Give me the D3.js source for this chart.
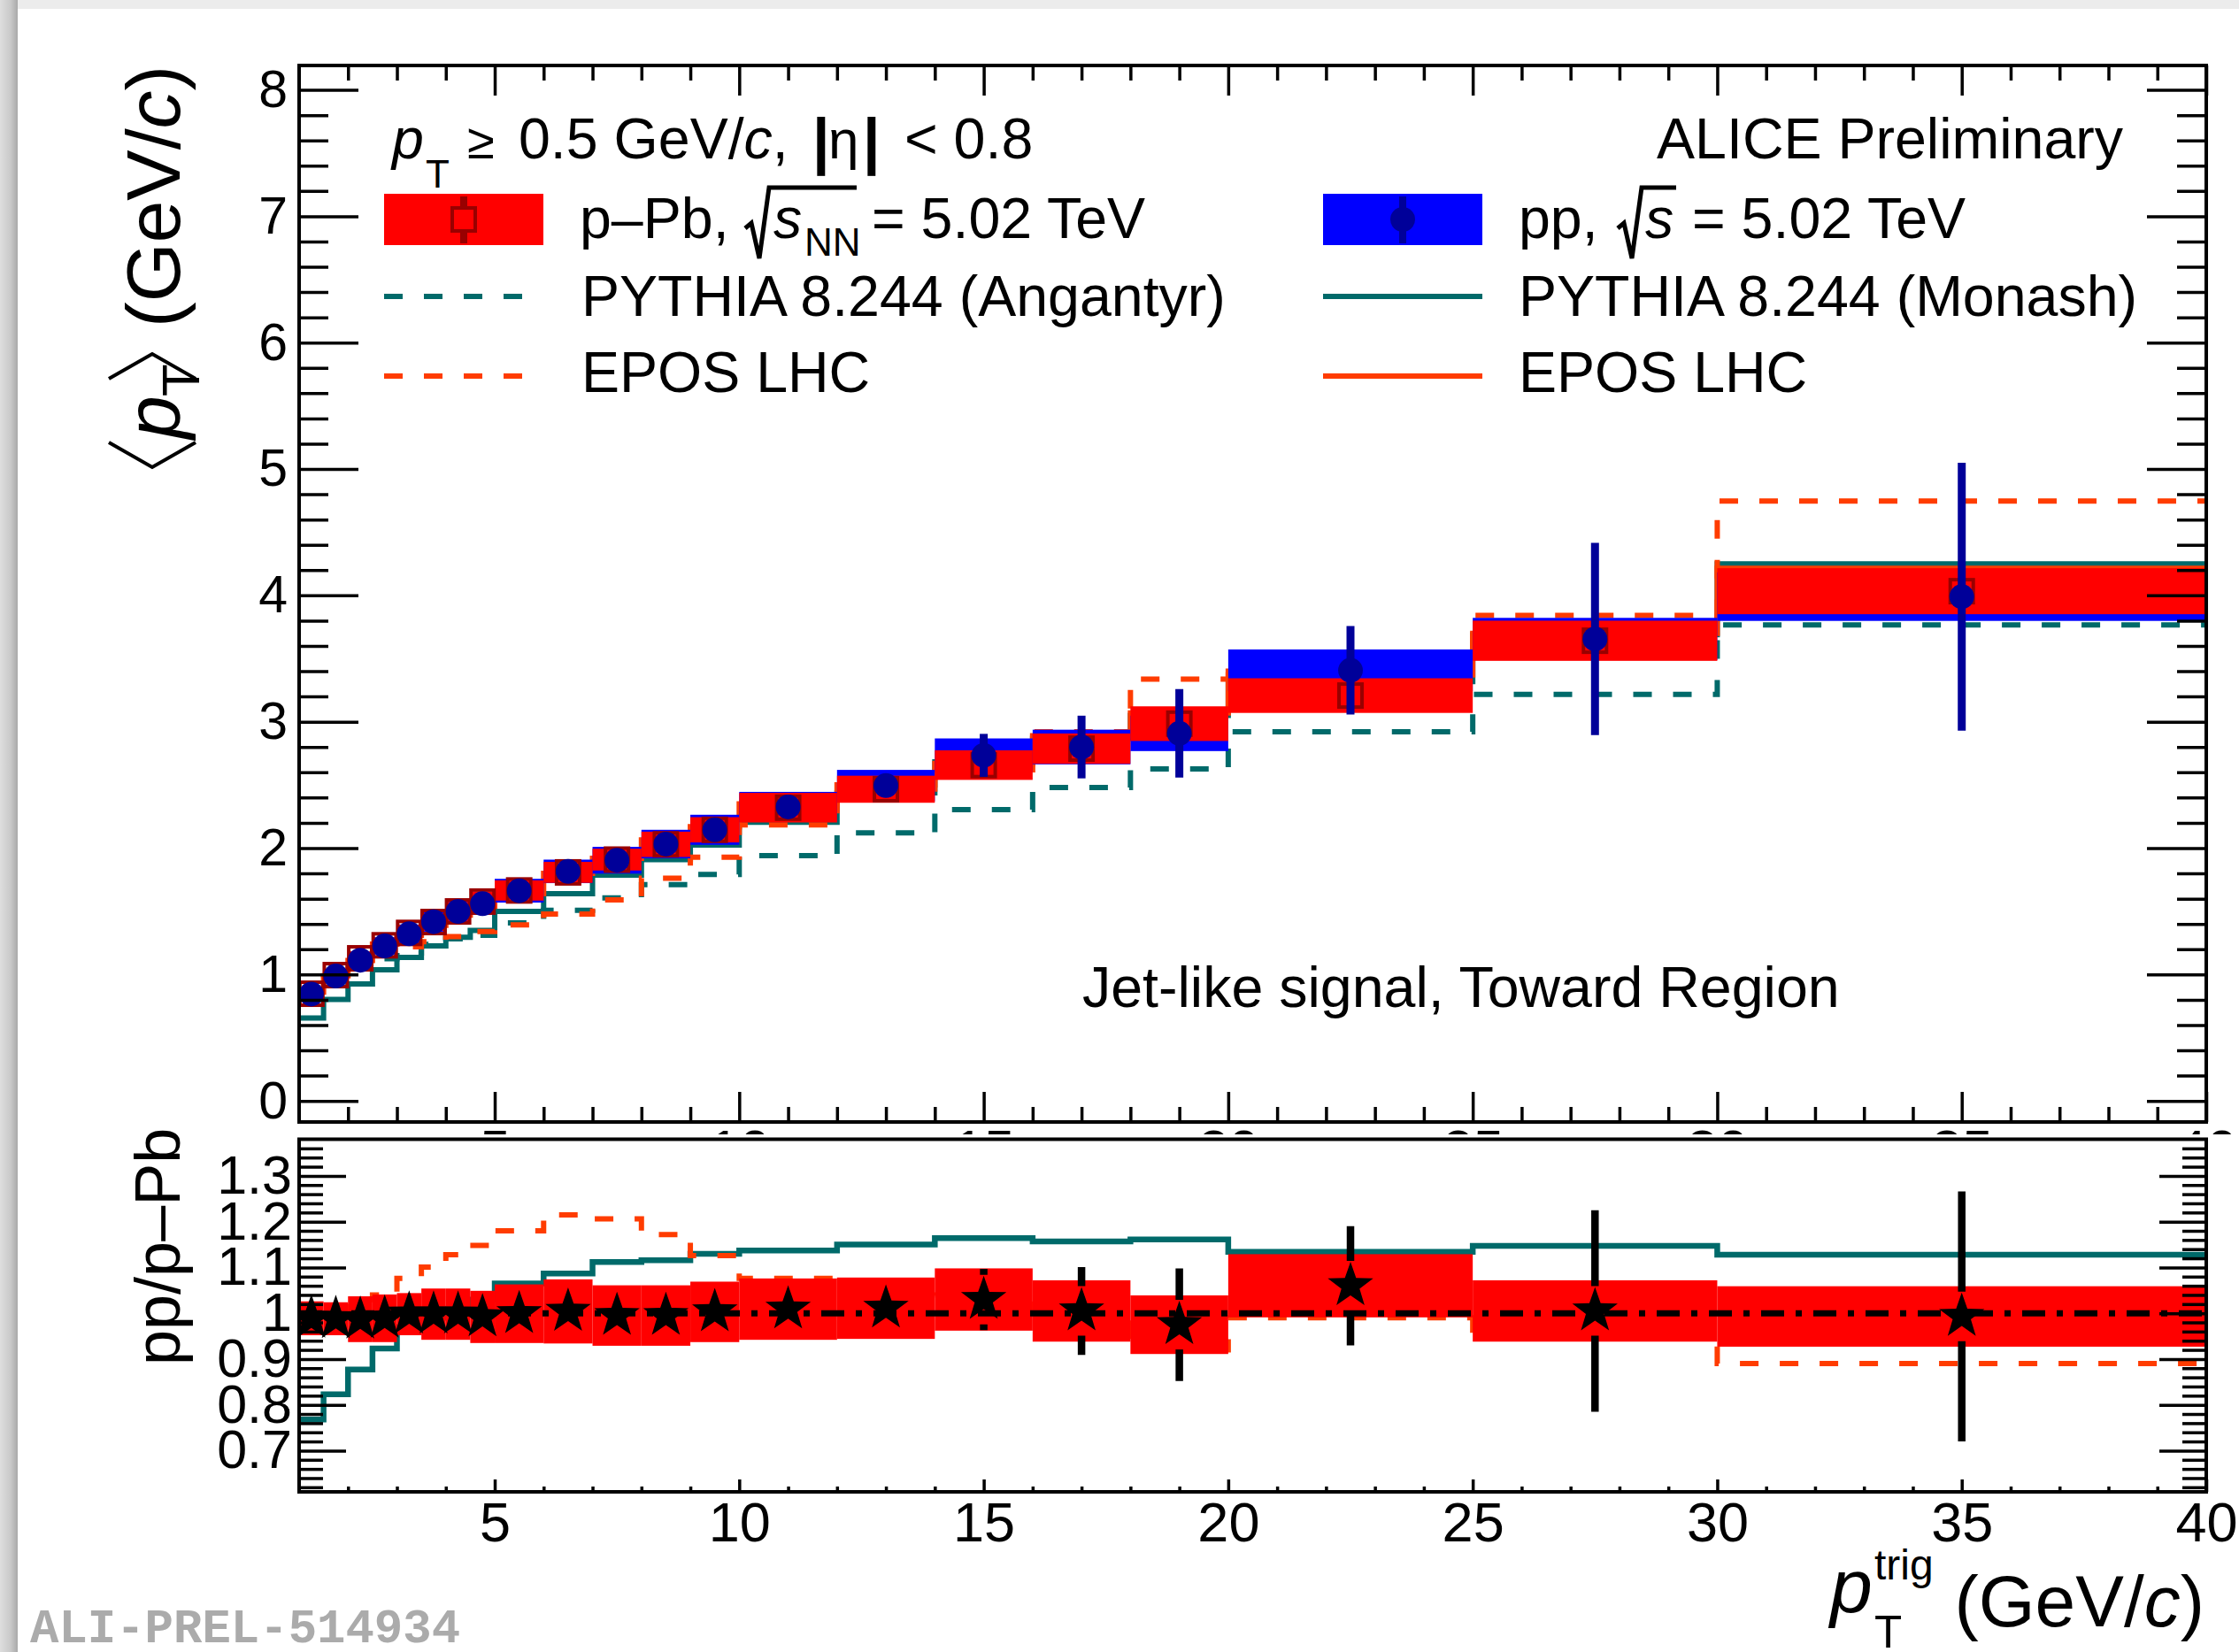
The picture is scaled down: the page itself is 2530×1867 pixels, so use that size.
<!DOCTYPE html>
<html>
<head>
<meta charset="utf-8">
<script src="https://cdnjs.cloudflare.com/ajax/libs/d3/7.8.5/d3.min.js"></script>
<style>
  html, body { margin: 0; padding: 0; background: #ffffff; }
  svg { display: block; font-family: "Liberation Sans", Arial, Helvetica, sans-serif; }
</style>
</head>
<body>
<svg id="chart" width="2530" height="1867"></svg>
<script>
// ---- data -------------------------------------------------------------
// trigger pT bin edges (GeV/c)
const binEdges = [1, 1.5, 2, 2.5, 3, 3.5, 4, 4.5, 5, 6, 7, 8, 9, 10, 12, 14, 16, 18, 20, 25, 30, 40];

// pp, sqrt(s) = 5.02 TeV : <pT> with statistical and systematic uncertainties
const ppMean = [0.845, 0.988, 1.113, 1.226, 1.322, 1.418, 1.499, 1.560, 1.663, 1.816, 1.904, 2.032, 2.145, 2.326, 2.495, 2.734, 2.800, 2.908, 3.407, 3.655, 3.990];
const ppStat = [0.010, 0.010, 0.010, 0.012, 0.014, 0.016, 0.018, 0.020, 0.022, 0.027, 0.033, 0.040, 0.050, 0.055, 0.080, 0.170, 0.248, 0.350, 0.350, 0.760, 1.060];
const ppSys  = [0.047, 0.055, 0.062, 0.068, 0.074, 0.079, 0.083, 0.087, 0.094, 0.093, 0.106, 0.113, 0.119, 0.119, 0.124, 0.134, 0.137, 0.140, 0.165, 0.167, 0.192];

// p-Pb, sqrt(sNN) = 5.02 TeV
const pPbMean = [0.848, 0.995, 1.128, 1.231, 1.329, 1.415, 1.499, 1.577, 1.665, 1.808, 1.909, 2.030, 2.145, 2.320, 2.466, 2.657, 2.787, 2.985, 3.207, 3.641, 4.033];
const pPbStat = [0.008, 0.008, 0.009, 0.010, 0.011, 0.012, 0.013, 0.014, 0.015, 0.017, 0.020, 0.022, 0.025, 0.025, 0.035, 0.045, 0.055, 0.065, 0.060, 0.120, 0.150];
const pPbSys  = [0.045, 0.050, 0.055, 0.060, 0.065, 0.070, 0.075, 0.078, 0.080, 0.083, 0.086, 0.100, 0.100, 0.117, 0.107, 0.117, 0.120, 0.137, 0.137, 0.159, 0.182];

// model predictions
const pythiaAngantyr = [0.854, 0.976, 1.056, 1.124, 1.170, 1.238, 1.282, 1.310, 1.408, 1.508, 1.606, 1.711, 1.792, 1.940, 2.120, 2.305, 2.479, 2.627, 2.921, 3.217, 3.766];
const pythiaMonash   = [0.656, 0.803, 0.926, 1.037, 1.135, 1.226, 1.295, 1.349, 1.499, 1.639, 1.786, 1.909, 2.025, 2.205, 2.438, 2.683, 2.868, 3.050, 3.318, 3.690, 4.250];
const eposPPb        = [0.860, 0.980, 1.080, 1.190, 1.220, 1.260, 1.300, 1.340, 1.393, 1.479, 1.590, 1.762, 1.929, 2.184, 2.400, 2.620, 2.920, 3.337, 3.400, 3.841, 4.746];
const eposPP         = [0.860, 0.990, 1.110, 1.240, 1.310, 1.390, 1.470, 1.540, 1.640, 1.800, 1.920, 2.065, 2.170, 2.350, 2.500, 2.670, 2.890, 3.070, 3.370, 3.700, 4.215];

// ratio pp / p-Pb
const ratioMean = [0.989, 0.988, 0.987, 0.989, 0.998, 0.998, 0.998, 0.992, 0.999, 1.004, 0.995, 0.995, 1.003, 1.009, 1.011, 1.030, 1.005, 0.975, 1.060, 1.005, 0.993];
const ratioStat = [0.010, 0.010, 0.010, 0.010, 0.012, 0.013, 0.014, 0.015, 0.016, 0.018, 0.020, 0.022, 0.025, 0.027, 0.035, 0.067, 0.096, 0.123, 0.130, 0.220, 0.273];
const ratioSys  = [0.037, 0.036, 0.050, 0.052, 0.046, 0.056, 0.056, 0.057, 0.064, 0.070, 0.066, 0.066, 0.066, 0.067, 0.067, 0.068, 0.067, 0.064, 0.069, 0.067, 0.066];
const ratioPythia = [0.768, 0.823, 0.877, 0.923, 0.970, 0.990, 1.010, 1.030, 1.065, 1.087, 1.112, 1.116, 1.130, 1.137, 1.150, 1.164, 1.157, 1.161, 1.134, 1.147, 1.128];
const ratioEpos   = [1.000, 1.010, 1.030, 1.040, 1.076, 1.101, 1.128, 1.148, 1.180, 1.215, 1.206, 1.172, 1.126, 1.076, 1.040, 1.020, 1.010, 0.920, 0.990, 0.963, 0.890];

// axis ticks
const xMajorTicks = [5, 10, 15, 20, 25, 30, 35, 40];
const yMajorTicks = [0, 1, 2, 3, 4, 5, 6, 7, 8];
const ratioMajorTicks = [0.7, 0.8, 0.9, 1.0, 1.1, 1.2, 1.3];

// ---- layout -----------------------------------------------------------
const W = 2530, H = 1867;
const TOP = { l: 338, r: 2493, t: 74, b: 1268 };
const BOT = { l: 338, r: 2493, t: 1287.5, b: 1686 };

const COL = {
  blueBox: "#0000ff", navy: "#000099", redBox: "#ff0000", darkRed: "#990000",
  teal: "#006a6a", orange: "#ff3c00", black: "#000000"
};

const x = d3.scaleLinear().domain([1, 40]).range([TOP.l, TOP.r]);
const yTop = d3.scaleLinear().domain([-0.167, 8.193]).range([TOP.b, TOP.t]);
const yRat = d3.scaleLinear().domain([0.61, 1.38]).range([BOT.b, BOT.t]);

const bins = binEdges.slice(0, -1).map((lo, i) => ({ lo, hi: binEdges[i + 1], c: (lo + binEdges[i + 1]) / 2, i }));
const stepRange = (a, b, s) => d3.range(Math.round(a / s), Math.round(b / s) + 1).map(k => +(k * s).toFixed(4));

const svg = d3.select("#chart");

// page background and the soft frame at its top-left edge
const defs = svg.append("defs");
const gl = defs.append("linearGradient").attr("id", "edgeL").attr("x1", 0).attr("x2", 1).attr("y1", 0).attr("y2", 0);
gl.append("stop").attr("offset", 0).attr("stop-color", "#dedede");
gl.append("stop").attr("offset", 0.6).attr("stop-color", "#c9c9c9");
gl.append("stop").attr("offset", 1).attr("stop-color", "#a9a9a9");
svg.append("rect").attr("width", W).attr("height", H).attr("fill", "#ffffff");
svg.append("rect").attr("x", 0).attr("y", 0).attr("width", W).attr("height", 10).attr("fill", "#ececec");
svg.append("rect").attr("x", 0).attr("y", 0).attr("width", 20).attr("height", H).attr("fill", "url(#edgeL)");

defs.append("clipPath").attr("id", "clipTop").append("rect")
  .attr("x", TOP.l).attr("y", TOP.t).attr("width", TOP.r - TOP.l).attr("height", TOP.b - TOP.t);
defs.append("clipPath").attr("id", "clipBot").append("rect")
  .attr("x", BOT.l).attr("y", BOT.t).attr("width", BOT.r - BOT.l).attr("height", BOT.b - BOT.t);

// histogram-style step line through all bins
function stepLine(vals, yS) {
  const pts = binEdges.map((e, i) => [e, vals[Math.min(i, vals.length - 1)]]);
  return d3.line().x(d => x(d[0])).y(d => yS(d[1])).curve(d3.curveStepAfter)(pts);
}

// five-pointed star marker
function starPath(cx, cy, R) {
  const r = R * 0.4, pts = [];
  for (let k = 0; k < 10; k++) {
    const a = -Math.PI / 2 + k * Math.PI / 5, rr = k % 2 ? r : R;
    pts.push([cx + rr * Math.cos(a), cy + rr * Math.sin(a)]);
  }
  return d3.line()(pts) + "Z";
}

const DASH = "21,24";

// ---- upper panel ------------------------------------------------------
const upper = svg.append("g").attr("clip-path", "url(#clipTop)");

const models = [
  { v: pythiaAngantyr, c: COL.teal, dash: DASH },
  { v: pythiaMonash, c: COL.teal, dash: null },
  { v: eposPPb, c: COL.orange, dash: DASH },
  { v: eposPP, c: COL.orange, dash: null }
];
models.forEach(m => {
  upper.append("path").attr("d", stepLine(m.v, yTop)).attr("fill", "none")
    .attr("stroke", m.c).attr("stroke-width", 6).attr("stroke-dasharray", m.dash);
});

// systematic boxes: pp underneath, p-Pb on top
upper.append("g").selectAll("rect").data(bins).join("rect")
  .attr("x", d => x(d.lo)).attr("width", d => x(d.hi) - x(d.lo))
  .attr("y", d => yTop(ppMean[d.i] + ppSys[d.i]))
  .attr("height", d => yTop(ppMean[d.i] - ppSys[d.i]) - yTop(ppMean[d.i] + ppSys[d.i]))
  .attr("fill", COL.blueBox);
upper.append("g").selectAll("rect").data(bins).join("rect")
  .attr("x", d => x(d.lo)).attr("width", d => x(d.hi) - x(d.lo))
  .attr("y", d => yTop(pPbMean[d.i] + pPbSys[d.i]))
  .attr("height", d => yTop(pPbMean[d.i] - pPbSys[d.i]) - yTop(pPbMean[d.i] + pPbSys[d.i]))
  .attr("fill", COL.redBox);

// p-Pb statistical bars (outside the marker) and open squares
const SQ = 15;
bins.forEach(d => {
  const cx = x(d.c), cy = yTop(pPbMean[d.i]);
  const yHi = yTop(pPbMean[d.i] + pPbStat[d.i]), yLo = yTop(pPbMean[d.i] - pPbStat[d.i]);
  if (cy - yHi > SQ) upper.append("line").attr("x1", cx).attr("x2", cx).attr("y1", yHi).attr("y2", cy - SQ)
    .attr("stroke", COL.darkRed).attr("stroke-width", 7);
  if (yLo - cy > SQ) upper.append("line").attr("x1", cx).attr("x2", cx).attr("y1", cy + SQ).attr("y2", yLo)
    .attr("stroke", COL.darkRed).attr("stroke-width", 7);
  upper.append("rect").attr("x", cx - SQ + 2).attr("y", cy - SQ + 2).attr("width", 2 * SQ - 4).attr("height", 2 * SQ - 4)
    .attr("fill", "none").attr("stroke", COL.darkRed).attr("stroke-width", 4);
});

// pp statistical bars and full circles
upper.append("g").selectAll("line").data(bins).join("line")
  .attr("x1", d => x(d.c)).attr("x2", d => x(d.c))
  .attr("y1", d => yTop(ppMean[d.i] + ppStat[d.i])).attr("y2", d => yTop(ppMean[d.i] - ppStat[d.i]))
  .attr("stroke", COL.navy).attr("stroke-width", 9);
upper.append("g").selectAll("circle").data(bins).join("circle")
  .attr("cx", d => x(d.c)).attr("cy", d => yTop(ppMean[d.i])).attr("r", 14).attr("fill", COL.navy);

// frame and ticks of the upper panel
const axisStyle = g => {
  g.select(".domain").remove();
  g.selectAll(".tick line").attr("stroke", "#000").attr("stroke-width", 3.5);
  g.selectAll("text").attr("fill", "#000").attr("font-family", "'Liberation Sans', Arial, sans-serif");
};
const xMinor = d3.range(2, 40).filter(v => v % 5 !== 0);
const yMinorTop = stepRange(0, 8.2, 0.2).filter(v => Math.abs(v - Math.round(v)) > 1e-6 && v <= 8.19);

// tick labels of the upper x axis sit under the lower panel and are mostly hidden by it
svg.append("g").attr("transform", `translate(0,${TOP.b})`)
  .call(d3.axisBottom(x).tickValues(xMajorTicks).tickSize(-34).tickPadding(8).tickFormat(d3.format("d")))
  .call(axisStyle).selectAll("text").attr("font-size", 62);
svg.append("g").attr("transform", `translate(0,${TOP.b})`)
  .call(d3.axisBottom(x).tickValues(xMinor).tickSize(-17).tickFormat("")).call(axisStyle);
svg.append("g").attr("transform", `translate(0,${TOP.t})`)
  .call(d3.axisTop(x).tickValues(xMajorTicks).tickSize(-34).tickFormat("")).call(axisStyle);
svg.append("g").attr("transform", `translate(0,${TOP.t})`)
  .call(d3.axisTop(x).tickValues(xMinor).tickSize(-17).tickFormat("")).call(axisStyle);
svg.append("g").attr("transform", `translate(${TOP.l},0)`)
  .call(d3.axisLeft(yTop).tickValues(yMajorTicks).tickSize(-67).tickPadding(13).tickFormat(d3.format("d")))
  .call(axisStyle).selectAll("text").attr("font-size", 59);
svg.append("g").attr("transform", `translate(${TOP.l},0)`)
  .call(d3.axisLeft(yTop).tickValues(yMinorTop).tickSize(-33).tickFormat("")).call(axisStyle);
svg.append("g").attr("transform", `translate(${TOP.r},0)`)
  .call(d3.axisRight(yTop).tickValues(yMajorTicks).tickSize(-67).tickFormat("")).call(axisStyle);
svg.append("g").attr("transform", `translate(${TOP.r},0)`)
  .call(d3.axisRight(yTop).tickValues(yMinorTop).tickSize(-33).tickFormat("")).call(axisStyle);
svg.append("rect").attr("x", TOP.l).attr("y", TOP.t).attr("width", TOP.r - TOP.l).attr("height", TOP.b - TOP.t)
  .attr("fill", "none").attr("stroke", "#000").attr("stroke-width", 4);

// ---- upper panel texts and legend ------------------------------------
const FS = 64.5;
const txt = (xx, yy, s, o = {}) => svg.append("text").attr("x", xx).attr("y", yy)
  .attr("font-size", o.size || FS).attr("font-style", o.italic ? "italic" : null)
  .attr("font-weight", o.bold ? "bold" : null).attr("text-anchor", o.anchor || "start")
  .attr("fill", o.fill || "#000").text(s);

// kinematic selection
txt(443, 179, "p", { italic: true });
txt(481, 212, "T", { size: 44 });
txt(528, 179, "\u2265", { size: 56 });
const sel = svg.append("text").attr("x", 586).attr("y", 179).attr("font-size", FS);
sel.append("tspan").text("0.5 GeV/");
sel.append("tspan").attr("font-style", "italic").text("c");
sel.append("tspan").text(",");
txt(918, 183, "|", { bold: true, size: 70 });
txt(936, 179, "\u03b7", { size: 62 });
txt(975, 183, "|", { bold: true, size: 70 });
txt(1022, 179, "< 0.8");
txt(2399, 179, "ALICE Preliminary", { anchor: "end" });

// legend entries: system boxes with markers
svg.append("rect").attr("x", 434).attr("y", 219).attr("width", 180).attr("height", 58).attr("fill", COL.redBox);
svg.append("line").attr("x1", 524).attr("x2", 524).attr("y1", 222).attr("y2", 234).attr("stroke", COL.darkRed).attr("stroke-width", 8);
svg.append("line").attr("x1", 524).attr("x2", 524).attr("y1", 262).attr("y2", 275).attr("stroke", COL.darkRed).attr("stroke-width", 8);
svg.append("rect").attr("x", 524 - SQ + 2).attr("y", 248 - SQ + 2).attr("width", 2 * SQ - 4).attr("height", 2 * SQ - 4)
  .attr("fill", "none").attr("stroke", COL.darkRed).attr("stroke-width", 4);
svg.append("rect").attr("x", 1495).attr("y", 219).attr("width", 180).attr("height", 58).attr("fill", COL.blueBox);
svg.append("line").attr("x1", 1585).attr("x2", 1585).attr("y1", 222).attr("y2", 275).attr("stroke", COL.navy).attr("stroke-width", 8);
svg.append("circle").attr("cx", 1585).attr("cy", 248).attr("r", 14).attr("fill", COL.navy);

// legend entries: model lines
[[434, 335, COL.teal, DASH], [434, 425, COL.orange, DASH], [1495, 335, COL.teal, null], [1495, 425, COL.orange, null]]
  .forEach(([x0, yy, c, dash]) => svg.append("line").attr("x1", x0).attr("x2", x0 + 180).attr("y1", yy).attr("y2", yy)
    .attr("stroke", c).attr("stroke-width", 6).attr("stroke-dasharray", dash));

// radical sign with overline
const radical = (x0, x1) => svg.append("path")
  .attr("d", `M${x0},258 L${x0 + 7},252 L${x0 + 16},292 L${x0 + 27},212 H${x1}`)
  .attr("fill", "none").attr("stroke", "#000").attr("stroke-width", 5).attr("stroke-linejoin", "miter");

txt(655, 269, "p\u2013Pb,");
radical(842, 968);
txt(874, 269, "s", { italic: true });
txt(909, 289, "NN", { size: 44 });
txt(985, 269, "= 5.02 TeV");
txt(657, 357, "PYTHIA 8.244 (Angantyr)");
txt(657, 443, "EPOS LHC");

txt(1716, 269, "pp,");
radical(1828, 1894);
txt(1859, 269, "s", { italic: true });
txt(1912, 269, "= 5.02 TeV");
txt(1716, 357, "PYTHIA 8.244 (Monash)");
txt(1716, 443, "EPOS LHC");

txt(1223, 1138, "Jet-like signal, Toward Region");

// y-axis title of the upper panel (rotated)
const yt = svg.append("g").attr("transform", "translate(203,532) rotate(-90)");
yt.append("path").attr("d", "M32,-80 L4,-31 L32,18").attr("fill", "none").attr("stroke", "#000").attr("stroke-width", 4);
yt.append("text").attr("x", 36).attr("y", 0).attr("font-size", 88).attr("font-style", "italic").text("p");
yt.append("text").attr("x", 84).attr("y", 22).attr("font-size", 60).text("T");
yt.append("path").attr("d", "M104,-80 L132,-31 L104,18").attr("fill", "none").attr("stroke", "#000").attr("stroke-width", 4);
const ytl = yt.append("text").attr("x", 162).attr("y", 0).attr("font-size", 86);
ytl.append("tspan").text("(GeV/");
ytl.append("tspan").attr("font-style", "italic").text("c");
ytl.append("tspan").text(")");

// ---- lower panel (ratio) ---------------------------------------------
// pad background hides the upper panel's x labels
svg.append("rect").attr("x", 20).attr("y", 1282).attr("width", W - 20).attr("height", H - 1282).attr("fill", "#ffffff");

const lower = svg.append("g").attr("clip-path", "url(#clipBot)");
lower.append("path").attr("d", stepLine(ratioPythia, yRat)).attr("fill", "none").attr("stroke", COL.teal).attr("stroke-width", 6.5);
lower.append("path").attr("d", stepLine(ratioEpos, yRat)).attr("fill", "none").attr("stroke", COL.orange).attr("stroke-width", 6).attr("stroke-dasharray", DASH);

lower.append("g").selectAll("rect").data(bins).join("rect")
  .attr("x", d => x(d.lo)).attr("width", d => x(d.hi) - x(d.lo))
  .attr("y", d => yRat(ratioMean[d.i] + ratioSys[d.i]))
  .attr("height", d => yRat(ratioMean[d.i] - ratioSys[d.i]) - yRat(ratioMean[d.i] + ratioSys[d.i]))
  .attr("fill", COL.redBox);

lower.append("line").attr("x1", x(1)).attr("x2", x(40)).attr("y1", yRat(1)).attr("y2", yRat(1))
  .attr("stroke", "#000").attr("stroke-width", 7).attr("stroke-dasharray", "26,13,7,13");

const GAP = 28;
bins.forEach(d => {
  const cx = x(d.c), cy = yRat(ratioMean[d.i]);
  const yHi = yRat(ratioMean[d.i] + ratioStat[d.i]), yLo = yRat(ratioMean[d.i] - ratioStat[d.i]);
  if (cy - yHi > GAP) lower.append("line").attr("x1", cx).attr("x2", cx).attr("y1", yHi).attr("y2", cy - GAP)
    .attr("stroke", "#000").attr("stroke-width", 8.5);
  if (yLo - cy > GAP) lower.append("line").attr("x1", cx).attr("x2", cx).attr("y1", cy + GAP).attr("y2", yLo)
    .attr("stroke", "#000").attr("stroke-width", 8.5);
});
lower.append("g").selectAll("path").data(bins).join("path")
  .attr("d", d => starPath(x(d.c), yRat(ratioMean[d.i]), 27)).attr("fill", "#000");

const rMinor = stepRange(0.62, 1.38, 0.02).filter(v => ratioMajorTicks.every(t => Math.abs(t - v) > 1e-6) && v <= 1.379);
svg.append("g").attr("transform", `translate(0,${BOT.b})`)
  .call(d3.axisBottom(x).tickValues(xMajorTicks).tickSize(-14).tickPadding(11).tickFormat(d3.format("d")))
  .call(axisStyle).selectAll("text").attr("font-size", 63);
svg.append("g").attr("transform", `translate(0,${BOT.b})`)
  .call(d3.axisBottom(x).tickValues(xMinor).tickSize(-6).tickFormat("")).call(axisStyle);
svg.append("g").attr("transform", `translate(${BOT.l},0)`)
  .call(d3.axisLeft(yRat).tickValues(ratioMajorTicks).tickSize(-53).tickPadding(8)
    .tickFormat(v => Math.abs(v - 1) < 1e-6 ? "1" : d3.format(".1f")(v)))
  .call(axisStyle).selectAll("text").attr("font-size", 61);
svg.append("g").attr("transform", `translate(${BOT.l},0)`)
  .call(d3.axisLeft(yRat).tickValues(rMinor).tickSize(-27).tickFormat("")).call(axisStyle);
svg.append("g").attr("transform", `translate(${BOT.r},0)`)
  .call(d3.axisRight(yRat).tickValues(ratioMajorTicks).tickSize(-53).tickFormat("")).call(axisStyle);
svg.append("g").attr("transform", `translate(${BOT.r},0)`)
  .call(d3.axisRight(yRat).tickValues(rMinor).tickSize(-27).tickFormat("")).call(axisStyle);
svg.append("rect").attr("x", BOT.l).attr("y", BOT.t).attr("width", BOT.r - BOT.l).attr("height", BOT.b - BOT.t)
  .attr("fill", "none").attr("stroke", "#000").attr("stroke-width", 4);

// ratio y title (rotated)
svg.append("text").attr("transform", "translate(203,1543) rotate(-90)")
  .attr("font-size", 72).text("pp/p\u2013Pb");

// x-axis title
txt(2068, 1822, "p", { italic: true, size: 86 });
txt(2118, 1785, "trig", { size: 48 });
txt(2118, 1862, "T", { size: 51 });
const xtl = svg.append("text").attr("x", 2491).attr("y", 1838).attr("font-size", 82).attr("text-anchor", "end");
xtl.append("tspan").text("(GeV/");
xtl.append("tspan").attr("font-style", "italic").text("c");
xtl.append("tspan").text(")");

// figure identifier
svg.append("text").attr("x", 34).attr("y", 1856).attr("font-size", 54).attr("font-weight", "bold")
  .attr("font-family", "'Liberation Mono', 'DejaVu Sans Mono', monospace").attr("fill", "#ababab")
  .text("ALI-PREL-514934");
</script>
</body>
</html>
